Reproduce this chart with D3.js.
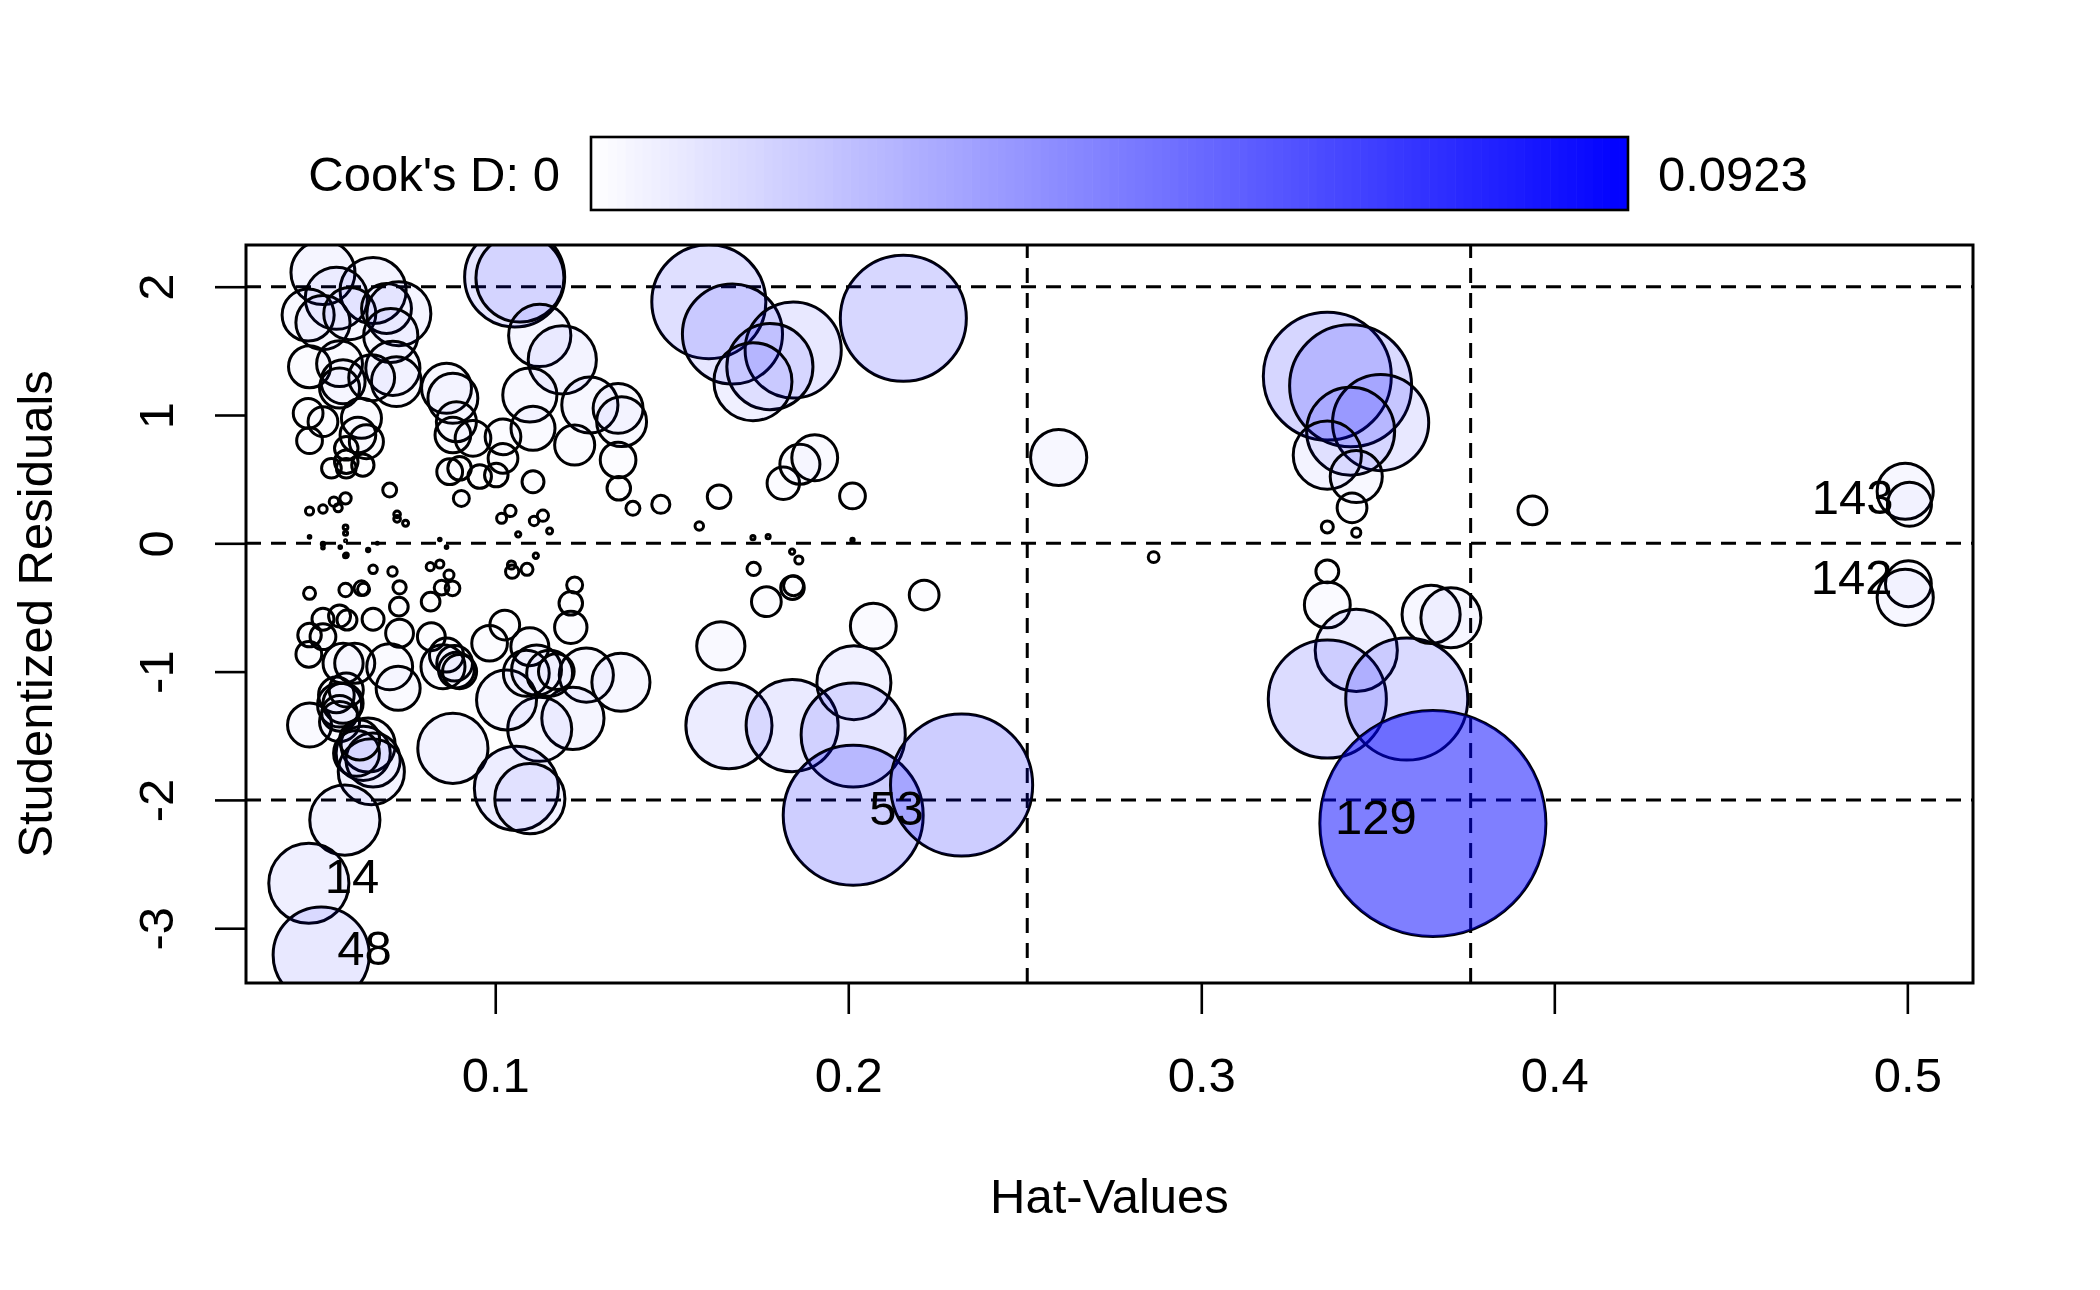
<!DOCTYPE html>
<html lang="en">
<head>
<meta charset="utf-8">
<script src="https://d3js.org/d3.v7.min.js"></script>
<style>
  body { margin: 0; background: #fff; }
  text { font-family: "Liberation Sans", Arial, Helvetica, sans-serif; fill: #000; }
</style>
</head>
<body>
<div id="influence"></div>
<script>
var hatVals = [
  0.0512, 0.0654, 0.0550, 0.0470, 0.0512, 0.0588, 0.0692, 0.0727, 0.0704, 0.0474,
  0.0559, 0.0569, 0.0559, 0.0710, 0.0720, 0.0650, 0.0470, 0.0512, 0.0474, 0.0621,
  0.0611, 0.0635, 0.0578, 0.0578, 0.0536, 0.0578, 0.0625, 0.0701, 0.0474, 0.0512,
  0.0543, 0.0555, 0.0576, 0.0722, 0.0722, 0.0746, 0.0576, 0.0576, 0.0474, 0.0512,
  0.0512, 0.0561, 0.0576, 0.0576, 0.0640, 0.0666, 0.0843, 0.0862, 0.1043, 0.1018,
  0.1135, 0.1110, 0.1154, 0.1065, 0.1115, 0.1107, 0.0904, 0.1055, 0.1070, 0.1126,
  0.1190, 0.1098, 0.1107, 0.1268, 0.1348, 0.1358, 0.1225, 0.1348, 0.1350, 0.1390,
  0.1469, 0.1634, 0.1578, 0.1730, 0.1773, 0.2012, 0.1841, 0.1860, 0.1816, 0.1863,
  0.1905, 0.2012, 0.0862, 0.0880, 0.0890, 0.0880, 0.0937, 0.1022, 0.1022, 0.0871,
  0.0899, 0.0956, 0.1003, 0.1605, 0.1672, 0.1844, 0.1778, 0.1730, 0.2156, 0.1225,
  0.1214, 0.1214, 0.1258, 0.1356, 0.1220, 0.1126, 0.1732, 0.1842, 0.1845, 0.1768,
  0.2215, 0.1639, 0.2071, 0.1662, 0.1841, 0.2016, 0.2014, 0.2014, 0.2321, 0.0474,
  0.0576, 0.0621, 0.0627, 0.0654, 0.0709, 0.0729, 0.0727, 0.0729, 0.0816, 0.0843,
  0.0869, 0.0848, 0.0879, 0.0817, 0.0819, 0.0862, 0.0885, 0.0890, 0.0852, 0.0899,
  0.0880, 0.0984, 0.1027, 0.1048, 0.1046, 0.1090, 0.1098, 0.1032, 0.1088, 0.1117,
  0.1154, 0.1060, 0.1098, 0.0474, 0.0559, 0.0550, 0.0569, 0.0559, 0.0559, 0.0578,
  0.0640, 0.0626, 0.0654, 0.0607, 0.0649, 0.0616, 0.0574, 0.0472, 0.0507, 0.0474,
  0.0512, 0.0512, 0.0472, 0.0559, 0.0580, 0.0654, 0.0569, 0.0602, 0.0701, 0.0725,
  0.0578, 0.1173, 0.2596, 0.2865, 0.3357, 0.3423, 0.3508, 0.3423, 0.3357, 0.3439,
  0.3427, 0.3357, 0.3439, 0.3357, 0.3357, 0.3439, 0.3357, 0.3582, 0.3651, 0.3707,
  0.3656, 0.4994, 0.5006, 0.5003, 0.4994, 0.3938
];
var studRes = [
  2.110, 1.970, 1.910, 1.780, 1.720, 1.790, 1.830, 1.790, 1.620, 1.376,
  1.400, 1.260, 1.210, 1.364, 1.260, 1.290, 1.013, 0.948, 0.800, 0.974,
  0.844, 0.792, 0.740, 0.636, 0.585, 0.585, 0.610, 0.415, 0.252, 0.267,
  0.324, 0.277, 0.350, 0.226, 0.190, 0.156, 0.125, 0.078, 0.050, -0.005,
  -0.034, -0.030, 0.020, -0.097, -0.052, 0.000, 0.030, -0.030, 0.252, 0.195,
  0.215, 0.174, 0.096, 0.070, -0.097, 0.480, 0.350, 2.076, 2.068, 1.620,
  1.430, 1.156, 0.896, 1.078, 1.052, 0.948, 0.766, 0.649, 0.429, 0.273,
  0.304, 0.363, 0.135, 0.044, 0.052, 0.026, -0.065, -0.130, 0.468, 0.616,
  0.667, 0.369, 1.208, 1.130, 0.948, 0.844, 0.818, 0.830, 0.662, 0.558,
  0.585, 0.520, 0.532, 1.883, 1.631, 1.507, 1.377, 1.260, 1.754, -0.325,
  -0.468, -0.655, -1.027, -1.083, -1.364, -1.450, -0.200, -0.346, -0.330, -0.455,
  -0.403, -0.800, -0.645, -1.421, -1.421, -1.086, -1.494, -2.120, -1.884, -0.390,
  -0.364, -0.350, -0.358, -0.203, -0.220, -0.343, -0.494, -0.701, -0.182, -0.161,
  -0.247, -0.346, -0.351, -0.455, -0.728, -0.871, -0.935, -0.988, -0.962, -1.000,
  -1.598, -0.779, -0.637, -0.221, -0.169, -0.203, -0.806, -1.221, -1.013, -0.988,
  -1.013, -1.910, -1.990, -1.416, -1.260, -1.182, -1.247, -1.325, -1.390, -1.143,
  -1.572, -1.637, -1.689, -1.637, -1.780, -1.533, -2.157, -2.650, -3.209, -0.715,
  -0.728, -0.592, -0.865, -0.567, -0.598, -0.592, -0.935, -0.935, -0.962, -1.130,
  -0.091, -1.000, 0.669, -0.107, 1.303, 1.228, 0.941, 0.874, 0.687, 0.520,
  0.277, 0.128, 0.083, -0.219, -0.480, -0.834, -1.214, -1.214, -0.554, -0.581,
  -2.184, 0.406, 0.305, -0.315, -0.422, 0.256
];
var cooksD = [
  0.0074, 0.0079, 0.0070, 0.0049, 0.0053, 0.0049, 0.0045, 0.0074, 0.0053, 0.0032,
  0.0038, 0.0035, 0.0029, 0.0053, 0.0045, 0.0038, 0.0016, 0.0016, 0.0012, 0.0029,
  0.0023, 0.0021, 0.0010, 0.0010, 0.0007, 0.0007, 0.0009, 0.00035, 0.00012, 0.00013,
  0.00016, 0.00012, 0.00023, 0.00008, 0.00008, 0.000065, 0.00004, 0.00003, 0.000012, 0.00002,
  0.000012, 0.000012, 0.000007, 0.00003, 0.00002, 0.000007, 0.000012, 0.000012, 0.00023, 0.00018,
  0.00023, 0.00016, 0.000065, 0.00005, 0.00005, 0.00087, 0.00046, 0.0181, 0.0140, 0.0070,
  0.0084, 0.0053, 0.0035, 0.0057, 0.0045, 0.0045, 0.0029, 0.0023, 0.0010, 0.00035,
  0.00059, 0.0010, 0.00013, 0.00003, 0.00003, 0.00002, 0.00005, 0.00012, 0.0019, 0.0029,
  0.0038, 0.0012, 0.0045, 0.0045, 0.0029, 0.0023, 0.0023, 0.0023, 0.0016, 0.0012,
  0.0010, 0.0010, 0.0010, 0.0235, 0.0181, 0.0167, 0.0134, 0.0110, 0.0287, 0.00046,
  0.0010, 0.0019, 0.0053, 0.0061, 0.0070, 0.0074, 0.00032, 0.0010, 0.00072, 0.0016,
  0.0016, 0.0042, 0.0038, 0.0134, 0.0153, 0.0099, 0.0196, 0.0354, 0.0365, 0.00026,
  0.00032, 0.00039, 0.00026, 0.00013, 0.00016, 0.00032, 0.00063, 0.0014, 0.00012, 0.00012,
  0.00018, 0.00039, 0.00039, 0.00063, 0.0014, 0.0021, 0.0023, 0.0023, 0.0035, 0.0021,
  0.0089, 0.0023, 0.0016, 0.00032, 0.00012, 0.00026, 0.0026, 0.0065, 0.0038, 0.0045,
  0.0038, 0.0128, 0.0089, 0.0035, 0.0035, 0.0023, 0.0029, 0.0023, 0.0029, 0.0021,
  0.0053, 0.0053, 0.0053, 0.0038, 0.0079, 0.0029, 0.0089, 0.0116, 0.0167, 0.0010,
  0.0012, 0.00087, 0.0012, 0.00087, 0.00072, 0.00087, 0.0029, 0.0029, 0.0038, 0.0035,
  0.00003, 0.0023, 0.0057, 0.00021, 0.0296, 0.0269, 0.0167, 0.0140, 0.0084, 0.0049,
  0.0016, 0.00026, 0.00015, 0.00094, 0.0038, 0.0122, 0.0252, 0.0269, 0.0061, 0.0065,
  0.0923, 0.0057, 0.0035, 0.0038, 0.0057, 0.0015
];

// labelled observations: index into the arrays above, and their ids
var labelIndex = [167, 168, 117, 200, 202, 203];
var labelText = ["14", "48", "53", "129", "143", "142"];

var xTicks = [0.1, 0.2, 0.3, 0.4, 0.5];
var yTicks = [-3, -2, -1, 0, 1, 2];
var hLines = [-2, 0, 2];
var vLines = [0.2507, 0.3763];   // 2 and 3 times the mean hat-value
var xLimits = [0.0294, 0.5186];
var yLimits = [-3.427, 2.325];
var cookMax = 0.0923;

var W = 2100, H = 1290;
var margin = {top: 245, right: 127, bottom: 307, left: 246};
var FS = 49;

var svg = d3.select("#influence").append("svg")
  .attr("width", W).attr("height", H)
  .style("display", "block");

var x = d3.scaleLinear().domain(xLimits).range([margin.left, W - margin.right]);
var y = d3.scaleLinear().domain(yLimits).range([H - margin.bottom, margin.top]);
var r = d3.scaleSqrt().domain([0, cookMax]).range([0, 113]);
var col = d3.scaleLinear().domain([0, cookMax]).range(["#ffffff", "#0000ff"]);
var alpha = d3.scaleLinear().domain([0, cookMax]).range([0, 0.5]);

var data = hatVals.map(function(h, i) {
  return {hat: h, res: studRes[i], cook: cooksD[i]};
});

// clip so circles stay inside the box
svg.append("clipPath").attr("id", "plotclip")
  .append("rect")
  .attr("x", x.range()[0]).attr("y", y.range()[1])
  .attr("width", x.range()[1] - x.range()[0])
  .attr("height", y.range()[0] - y.range()[1]);

var plot = svg.append("g").attr("clip-path", "url(#plotclip)");

// reference lines
plot.selectAll("line.h").data(hLines).enter().append("line")
  .attr("x1", x.range()[0]).attr("x2", x.range()[1])
  .attr("y1", function(d) { return y(d); }).attr("y2", function(d) { return y(d); })
  .attr("stroke", "#000").attr("stroke-width", 3).attr("stroke-dasharray", "15,10");
plot.selectAll("line.v").data(vLines).enter().append("line")
  .attr("y1", y.range()[0]).attr("y2", y.range()[1])
  .attr("x1", function(d) { return x(d); }).attr("x2", function(d) { return x(d); })
  .attr("stroke", "#000").attr("stroke-width", 3).attr("stroke-dasharray", "15,10");

// bubbles: blue with transparency growing with Cook's D
plot.selectAll("circle").data(data).enter().append("circle")
  .attr("cx", function(d) { return x(d.hat); })
  .attr("cy", function(d) { return y(d.res); })
  .attr("r", function(d) { return Math.max(r(d.cook), 1); })
  .attr("fill", "#0000ff")
  .attr("fill-opacity", function(d) { return alpha(d.cook); })
  .attr("stroke", "#000")
  .attr("stroke-width", 3)
  .style("paint-order", "stroke");

// point labels
var xMid = (xLimits[0] + xLimits[1]) / 2;
svg.append("g").selectAll("text").data(labelIndex).enter().append("text")
  .attr("x", function(i) {
    return hatVals[i] > xMid ? x(hatVals[i]) - 16 : x(hatVals[i]) + 16;
  })
  .attr("y", function(i) { return y(studRes[i]) + 10; })
  .attr("text-anchor", function(i) { return hatVals[i] > xMid ? "end" : "start"; })
  .style("font-size", FS + "px")
  .text(function(i, k) { return labelText[k]; });

// box
svg.append("rect")
  .attr("x", x.range()[0]).attr("y", y.range()[1])
  .attr("width", x.range()[1] - x.range()[0])
  .attr("height", y.range()[0] - y.range()[1])
  .attr("fill", "none").attr("stroke", "#000").attr("stroke-width", 3);

// axes
var xAxis = svg.append("g")
  .attr("transform", "translate(0," + y.range()[0] + ")")
  .call(d3.axisBottom(x).tickValues(xTicks).tickSize(31).tickFormat(d3.format(".1f")));
xAxis.select(".domain").remove();
xAxis.selectAll("line").attr("stroke-width", 2.6);
xAxis.selectAll("text")
  .attr("y", 92).attr("dy", null)
  .style("font-size", FS + "px")
  .attr("dominant-baseline", "central");

var yAxis = svg.append("g")
  .attr("transform", "translate(" + x.range()[0] + ",0)")
  .call(d3.axisLeft(y).tickValues(yTicks).tickSize(31).tickFormat(function(d) { return String(d); }));
yAxis.select(".domain").remove();
yAxis.selectAll("line").attr("stroke-width", 2.6);
yAxis.selectAll("text")
  .attr("x", null).attr("dy", null)
  .attr("transform", "translate(-90,0) rotate(-90)")
  .attr("text-anchor", "middle")
  .attr("dominant-baseline", "central")
  .style("font-size", FS + "px");

svg.append("text")
  .attr("x", (x.range()[0] + x.range()[1]) / 2).attr("y", 1196)
  .attr("text-anchor", "middle").attr("dominant-baseline", "central")
  .style("font-size", FS + "px")
  .text("Hat-Values");

svg.append("text")
  .attr("transform", "translate(35," + ((y.range()[0] + y.range()[1]) / 2) + ") rotate(-90)")
  .attr("text-anchor", "middle").attr("dominant-baseline", "central")
  .style("font-size", FS + "px")
  .text("Studentized Residuals");

// Cook's D colour bar
var bar = {x0: 591, x1: 1628, y0: 137, y1: 210};
var nSteps = 120;
var stepW = (bar.x1 - bar.x0) / nSteps;
svg.append("g").selectAll("rect").data(d3.range(nSteps)).enter().append("rect")
  .attr("x", function(i) { return bar.x0 + i * stepW; })
  .attr("y", bar.y0)
  .attr("width", stepW + 0.6)
  .attr("height", bar.y1 - bar.y0)
  .attr("fill", function(i) { return col(cookMax * (i + 0.5) / nSteps); });
svg.append("rect")
  .attr("x", bar.x0).attr("y", bar.y0)
  .attr("width", bar.x1 - bar.x0).attr("height", bar.y1 - bar.y0)
  .attr("fill", "none").attr("stroke", "#000").attr("stroke-width", 2.6);

svg.append("text")
  .attr("x", bar.x0 - 31).attr("y", (bar.y0 + bar.y1) / 2)
  .attr("text-anchor", "end").attr("dominant-baseline", "central")
  .style("font-size", FS + "px")
  .text("Cook's D: 0");
svg.append("text")
  .attr("x", bar.x1 + 30).attr("y", (bar.y0 + bar.y1) / 2)
  .attr("text-anchor", "start").attr("dominant-baseline", "central")
  .style("font-size", FS + "px")
  .text(cookMax);
</script>
</body>
</html>
